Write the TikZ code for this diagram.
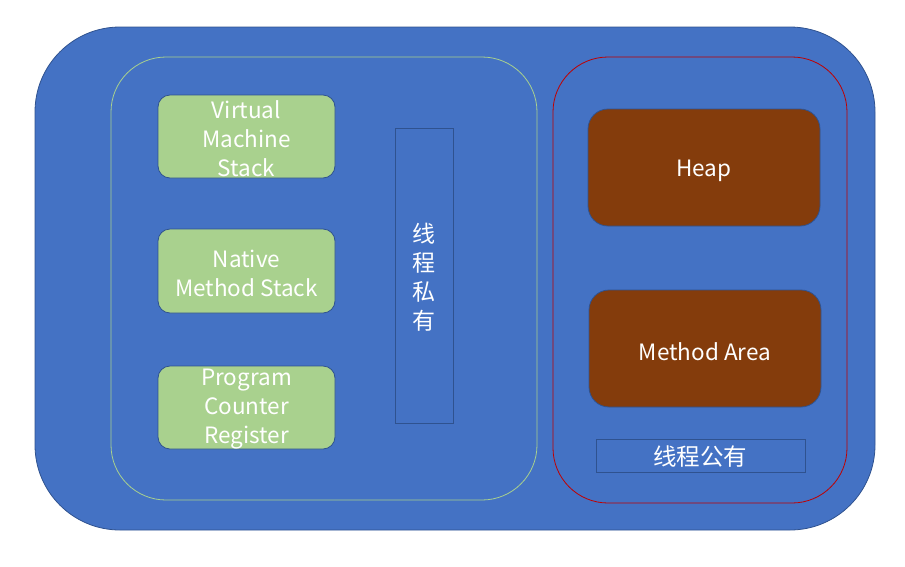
\documentclass[tikz,border=0pt]{standalone}
\usepackage{fontspec}
\setmainfont{Noto Sans CJK SC}
\definecolor{fillblue}{HTML}{4472C4}
\definecolor{edgeblue}{HTML}{2F528F}
\definecolor{lgreen}{HTML}{A9D18E}
\definecolor{dred}{HTML}{C00000}
\definecolor{brown}{HTML}{843C0C}
\tikzset{
  greenbox/.style={draw=edgeblue, fill=lgreen, rounded corners=12pt, line width=0.8pt},
  brownbox/.style={draw=edgeblue, fill=brown, rounded corners=20pt, line width=0.8pt},
  lbl/.style={text=white, font=\fontsize{22.5}{29}\selectfont, align=center},
}
\begin{document}
\begin{tikzpicture}[x=1pt,y=-1pt]
\useasboundingbox (0,0) rectangle (905,566);
% outer
\draw[draw=edgeblue, fill=fillblue, line width=0.8pt, rounded corners=85pt] (35,27) rectangle (875,530);
% groups
\draw[draw=lgreen, line width=0.8pt, rounded corners=55pt] (111,57) rectangle (537,500);
\draw[draw=dred, line width=0.8pt, rounded corners=55pt] (553,57) rectangle (847,503);
% green boxes
\draw[greenbox] (158,95) rectangle (335,178);
\node[lbl] (vms) at (246.5,138.5) {Virtual\\Machine\\Stack};
\draw[greenbox] (158,229) rectangle (335,313);
\node[lbl] (nms) at (246.5,273) {Native\\Method Stack};
\draw[greenbox] (158,366) rectangle (335,449);
\node[lbl] (pcr) at (246.5,409.5) {Program\\Counter\\Register};
% vertical label
\draw[draw=edgeblue, line width=0.8pt] (395,128) rectangle (453,423);
\node[lbl, font=\fontsize{23}{29}\selectfont] (priv) at (424,277) {线\\程\\私\\有};
% brown boxes
\draw[brownbox] (588,109) rectangle (820,226);
\node[lbl] (heap) at (704,171) {Heap};
\draw[brownbox] (589,290) rectangle (821,407);
\node[lbl] (ma) at (705,352) {Method Area};
% shared label
\draw[draw=edgeblue, line width=0.8pt] (596,439) rectangle (805,472);
\node[lbl, font=\fontsize{23.5}{29}\selectfont] (pub) at (700,457) {线程公有};
\end{tikzpicture}
\end{document}
